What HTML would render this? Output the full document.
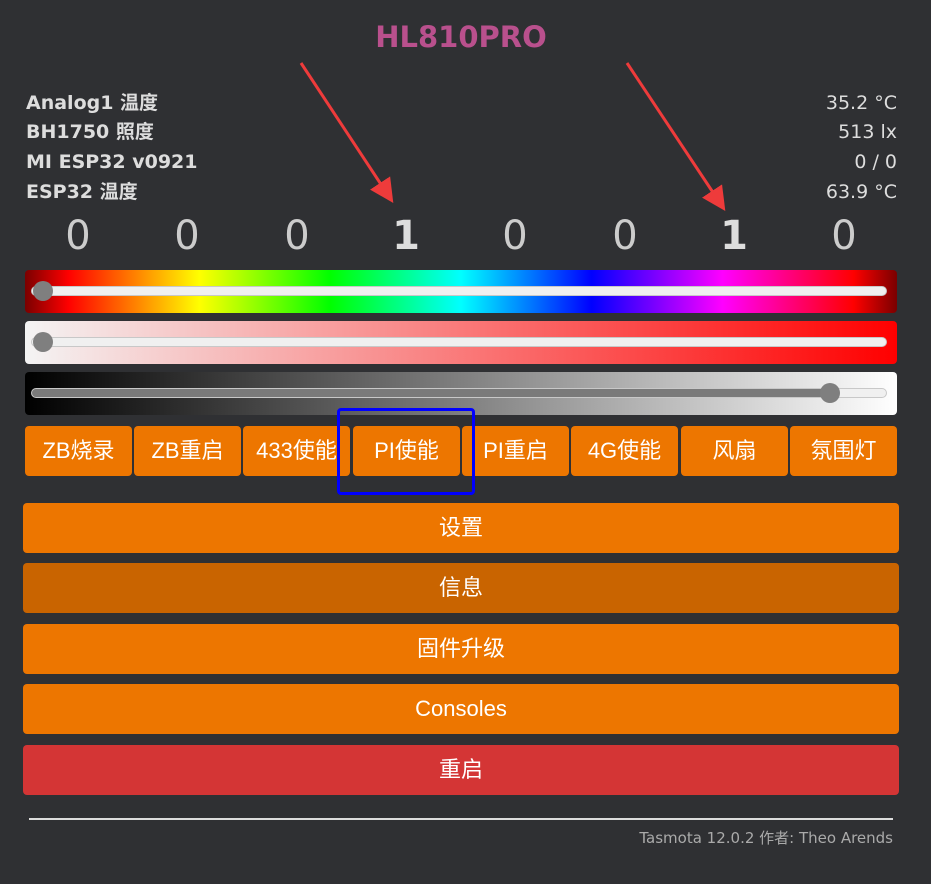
<!DOCTYPE html>
<html><head><meta charset="utf-8">
<style>
*{box-sizing:border-box;margin:0;padding:0}
body{width:931px;height:884px;background:#2f3033;position:relative;overflow:hidden;font-family:"Liberation Sans","Noto Sans CJK SC",sans-serif;color:#ddd}
.abs{position:absolute}
.title{left:0;width:922px;top:20px;text-align:center;font:bold 29px "DejaVu Sans","Noto Sans CJK SC",sans-serif;color:#b9508d;line-height:34px}
.sl{font:bold 19px "DejaVu Sans","Noto Sans CJK SC",sans-serif;color:#ddd;left:26px;line-height:22px;height:22px}
.sv{font:19px "DejaVu Sans","Noto Sans CJK SC",sans-serif;color:#ddd;right:34px;text-align:right;line-height:22px;height:22px}
.dig{top:213px;width:110px;text-align:center;font:40px "DejaVu Sans",sans-serif;color:#ccc;line-height:46px}
.dig.b{font-weight:bold;color:#ddd}
.bar{left:25px;width:872px;height:43px;border-radius:4px}
.track{position:absolute;left:6px;right:10px;top:16px;height:10px;border-radius:5px;background:#f0f0f0;border:1px solid #c8c8c8}
.thumb{position:absolute;top:11px;width:20px;height:20px;border-radius:50%;background:#7f7f7f}
.btn{height:50px;border-radius:4px;background:#ed7600;color:#fff;font-size:22px;text-align:center;line-height:50px}
.sm{top:426px;width:107px}
.big{left:23px;width:876px}
</style></head><body>
<div class="abs title">HL810PRO</div>

<div class="abs sl" style="top:92px">Analog1 温度</div>
<div class="abs sl" style="top:121px">BH1750 照度</div>
<div class="abs sl" style="top:151px">MI ESP32 v0921</div>
<div class="abs sl" style="top:181px">ESP32 温度</div>
<div class="abs sv" style="top:92px">35.2 °C</div>
<div class="abs sv" style="top:121px">513 lx</div>
<div class="abs sv" style="top:151px">0 / 0</div>
<div class="abs sv" style="top:181px">63.9 °C</div>

<div class="abs dig" style="left:23px">0</div>
<div class="abs dig" style="left:132px">0</div>
<div class="abs dig" style="left:242px">0</div>
<div class="abs dig b" style="left:351px">1</div>
<div class="abs dig" style="left:460px">0</div>
<div class="abs dig" style="left:570px">0</div>
<div class="abs dig b" style="left:679px">1</div>
<div class="abs dig" style="left:789px">0</div>

<svg class="abs" style="left:0;top:0" width="931" height="260">
<defs><marker id="ah" markerWidth="8" markerHeight="8" refX="6" refY="4" orient="auto"><path d="M0,0 L8,4 L0,8 z" fill="#ee3b3b"/></marker></defs>
<line x1="301" y1="63" x2="390" y2="198" stroke="#ee3b3b" stroke-width="3" marker-end="url(#ah)"/>
<line x1="627" y1="63" x2="722" y2="206" stroke="#ee3b3b" stroke-width="3" marker-end="url(#ah)"/>
</svg>

<div class="abs bar" style="top:270px;background:linear-gradient(to right,#7a0000 0%,#ff0000 5%,#ffff00 20%,#00ff00 35%,#00ffff 50%,#0000ff 65%,#ff00ff 80%,#ff0000 95%,#7a0000 100%)"><div class="track"></div><div class="thumb" style="left:8px"></div></div>
<div class="abs bar" style="top:321px;background:linear-gradient(to right,#f4f4f4,#ff0000)"><div class="track"></div><div class="thumb" style="left:8px"></div></div>
<div class="abs bar" style="top:372px;background:linear-gradient(to right,#000,#fff)"><div class="track" style="background:linear-gradient(to right,#7a7a7a 94%,#f0f0f0 94%)"></div><div class="thumb" style="left:795px"></div></div>

<div class="abs btn sm" style="left:25px">ZB烧录</div>
<div class="abs btn sm" style="left:134px">ZB重启</div>
<div class="abs btn sm" style="left:243px">433使能</div>
<div class="abs btn sm" style="left:353px">PI使能</div>
<div class="abs btn sm" style="left:462px">PI重启</div>
<div class="abs btn sm" style="left:571px">4G使能</div>
<div class="abs btn sm" style="left:681px">风扇</div>
<div class="abs btn sm" style="left:790px">氛围灯</div>
<div class="abs" style="left:337px;top:408px;width:138px;height:87px;border:3px solid #0000ff;border-radius:4px"></div>

<div class="abs btn big" style="top:503px">设置</div>
<div class="abs btn big" style="top:563px;background:#c96400">信息</div>
<div class="abs btn big" style="top:624px">固件升级</div>
<div class="abs btn big" style="top:684px">Consoles</div>
<div class="abs btn big" style="top:745px;background:#d43535">重启</div>

<div class="abs" style="left:29px;top:818px;width:864px;height:2px;background:#ddd"></div>
<div class="abs" style="right:38px;top:829px;font:15px 'DejaVu Sans','Noto Sans CJK SC',sans-serif;color:#aaa;line-height:18px">Tasmota 12.0.2 作者: Theo Arends</div>
</body></html>
